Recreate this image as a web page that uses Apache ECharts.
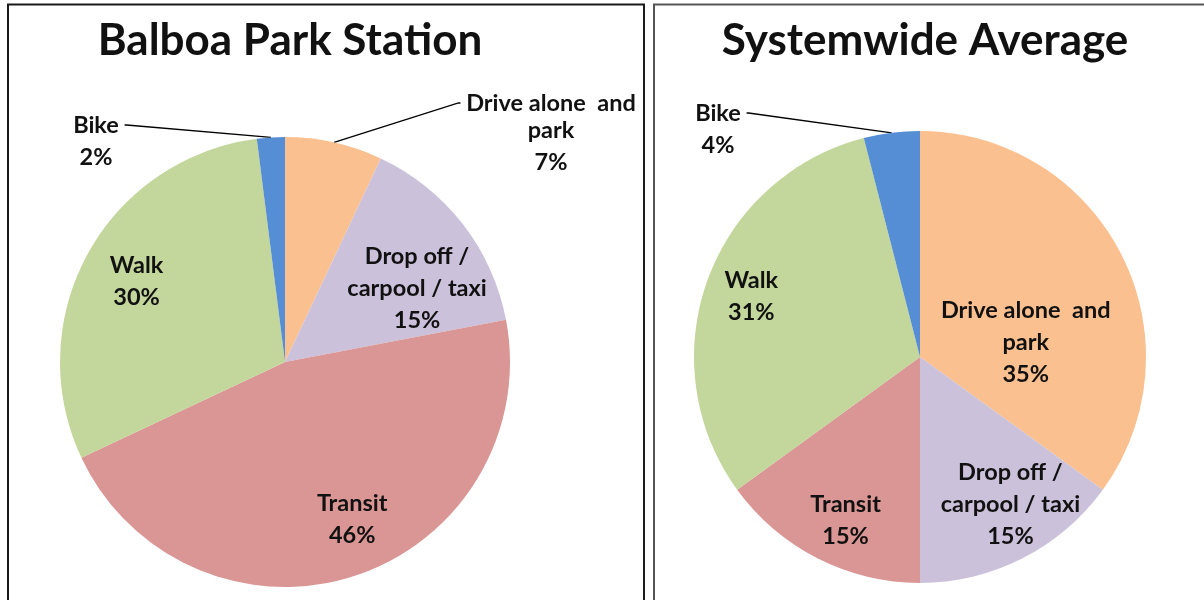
<!DOCTYPE html>
<html>
<head>
<meta charset="utf-8">
<script src="https://cdn.jsdelivr.net/npm/echarts@6/dist/echarts.min.js"></script>
<style>
  html, body { margin: 0; padding: 0; background: #fff; }
  #main { width: 1204px; height: 600px; }
</style>
</head>
<body>
<div id="main"></div>
<script>
// categories, clockwise from 12 o'clock
var modes = ['Drive alone  and\npark', 'Drop off /\ncarpool / taxi', 'Transit', 'Walk', 'Bike'];
var balboaShares = [7, 15, 46, 30, 2];
var systemShares = [35, 15, 15, 31, 4];
var chartTitles = ['Balboa Park Station', 'Systemwide Average'];

var modeColors = ['#FAC090', '#CCC1DA', '#D99694', '#C3D69B', '#558ED5'];
var FONT = 'Lato, "Open Sans", sans-serif';
var LH = 32;
var LABEL_SIZE = 23.5;

// outside: slices labelled outside with a leader line -> centre of the label's first line
// nudge: small shifts of the inside labels
var panels = [
  { values: balboaShares, center: [285, 362], r: 225,
    outside: { 0: [551, 103], 4: [96, 125] },
    nudge: { 1: [-9, 36], 2: [12, -12], 3: [8, 5] } },
  { values: systemShares, center: [920, 357], r: 226,
    outside: { 4: [718, 113] },
    nudge: { 0: [-54, 67], 1: [9, -12], 2: [7, 4] } }
];

function labelLines(i, v) {
  return (modes[i] + '\n' + v + '%').split('\n');
}

var labelFont = {
  color: '#111',
  fontFamily: FONT,
  fontWeight: 'bold',
  fontSize: LABEL_SIZE,
  lineHeight: LH
};

var series = [];
panels.forEach(function (p) {
  // base pie: colours + first line of the leader-line labels
  series.push({
    type: 'pie',
    center: p.center,
    radius: p.r,
    startAngle: 90,
    silent: true,
    avoidLabelOverlap: false,
    label: { show: false },
    labelLine: { show: false },
    data: p.values.map(function (v, i) {
      var out = p.outside[i];
      return {
        name: modes[i],
        value: v,
        itemStyle: { color: modeColors[i], borderWidth: 0 },
        label: out ? Object.assign({
          show: true,
          position: 'outside',
          // spaces keep a small gap between the leader line and the text
          formatter: ' ' + labelLines(i, v)[0] + ' ',
          align: 'center'
        }, labelFont) : { show: false },
        labelLine: out ? {
          show: true, length: 8, length2: 2,
          lineStyle: { color: '#000', width: 1.3 }
        } : { show: false }
      };
    }),
    labelLayout: function (params) {
      var pos = p.outside[params.dataIndex];
      if (!pos) return {};
      return { x: pos[0], y: pos[1], align: 'center', verticalAlign: 'middle' };
    }
  });
  // overlay ring: places the inside labels further out, and the rest of the outside labels
  series.push({
    type: 'pie',
    center: p.center,
    radius: [p.r * 0.56, p.r],
    startAngle: 90,
    silent: true,
    avoidLabelOverlap: false,
    itemStyle: { color: 'rgba(0,0,0,0)', borderWidth: 0 },
    label: Object.assign({
      show: true,
      position: 'inside',
      formatter: function (d) {
        var lines = labelLines(d.dataIndex, d.value);
        return (p.outside[d.dataIndex] ? lines.slice(1) : lines).join('\n');
      }
    }, labelFont),
    labelLine: { show: false },
    data: p.values.map(function (v, i) {
      return { name: modes[i], value: v };
    }),
    labelLayout: function (params) {
      var i = params.dataIndex;
      var pos = p.outside[i];
      if (pos) {
        var nRest = labelLines(i, p.values[i]).length - 1;
        return { x: pos[0], y: pos[1] + LH / 2 + nRest * LH / 2 - (nRest - 1) * 5, align: 'center', verticalAlign: 'middle' };
      }
      var n = p.nudge[i];
      if (!n) return {};
      var r = params.labelRect;
      return { x: r.x + r.width / 2 + n[0], y: r.y + r.height / 2 + n[1], align: 'center', verticalAlign: 'middle' };
    }
  });
});

var chart = echarts.init(document.getElementById('main'));
chart.setOption({
  animation: false,
  backgroundColor: '#fff',
  title: chartTitles.map(function (t, k) {
    return {
      text: t,
      left: panels[k].center[0],
      textAlign: 'center',
      top: 14,
      textStyle: { fontFamily: FONT, fontWeight: 'bold', fontSize: 44, color: '#111' }
    };
  }),
  graphic: [
    { type: 'rect', shape: { x: 8, y: 4.5, width: 636, height: 640 },
      style: { fill: null, stroke: '#1a1a1a', lineWidth: 2 } },
    { type: 'rect', shape: { x: 654, y: 4.5, width: 600, height: 640 },
      style: { fill: null, stroke: '#555', lineWidth: 2 } }
  ],
  series: series
});
</script>
</body>
</html>
